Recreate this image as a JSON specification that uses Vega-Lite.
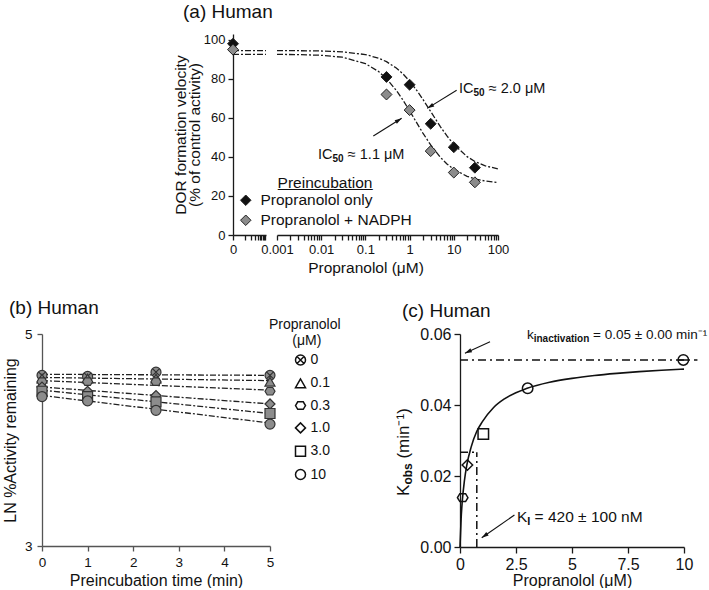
{
  "$schema": "https://vega.github.io/schema/vega-lite/v6.json",
  "background": "white",
  "padding": {"left": 2, "top": 2, "right": 0, "bottom": 0},
  "config": {
    "font": "Liberation Sans",
    "view": {"stroke": null},
    "axis": {"grid": false, "domainColor": "#1a1a1a", "tickColor": "#1a1a1a", "labelColor": "#111", "titleColor": "#111", "labelFontSize": 13, "titleFontSize": 15.5, "titleFontWeight": "normal", "tickSize": 5, "labelPadding": 3, "domainWidth": 1.3, "tickWidth": 1.3, "labelFlush": false, "labelOverlap": false, "labelBound": false},
    "legend": {"labelColor": "#111", "titleColor": "#111", "titleFontWeight": "normal", "padding": 0},
    "title": {"fontSize": 19, "fontWeight": "normal", "anchor": "start", "frame": "group", "color": "#111"}
  },
  "datasets": {
    "a_pts": [
      {"group": "Propranolol only", "conc": 0, "pct": 98},
      {"group": "Propranolol + NADPH", "conc": 0, "pct": 95},
      {"group": "Propranolol only", "conc": 0.3, "pct": 81},
      {"group": "Propranolol + NADPH", "conc": 0.3, "pct": 72},
      {"group": "Propranolol only", "conc": 1, "pct": 77},
      {"group": "Propranolol + NADPH", "conc": 1, "pct": 64},
      {"group": "Propranolol only", "conc": 3, "pct": 57},
      {"group": "Propranolol + NADPH", "conc": 3, "pct": 43},
      {"group": "Propranolol only", "conc": 10, "pct": 45},
      {"group": "Propranolol + NADPH", "conc": 10, "pct": 32},
      {"group": "Propranolol only", "conc": 30, "pct": 34.5},
      {"group": "Propranolol + NADPH", "conc": 30, "pct": 27}
    ],
    "a_fit": [
      {"group": "Propranolol only", "conc": 0, "pct": 94.5},
      {"group": "Propranolol only", "conc": 0.0005, "pct": 94.49},
      {"group": "Propranolol only", "conc": 0.001, "pct": 94.48},
      {"group": "Propranolol only", "conc": 0.003, "pct": 94.44},
      {"group": "Propranolol only", "conc": 0.01, "pct": 94.29},
      {"group": "Propranolol only", "conc": 0.03, "pct": 93.88},
      {"group": "Propranolol only", "conc": 0.1, "pct": 92.48},
      {"group": "Propranolol only", "conc": 0.2, "pct": 90.59},
      {"group": "Propranolol only", "conc": 0.3, "pct": 88.82},
      {"group": "Propranolol only", "conc": 0.5, "pct": 85.57},
      {"group": "Propranolol only", "conc": 0.7, "pct": 82.68},
      {"group": "Propranolol only", "conc": 1, "pct": 78.88},
      {"group": "Propranolol only", "conc": 1.5, "pct": 73.67},
      {"group": "Propranolol only", "conc": 2, "pct": 69.5},
      {"group": "Propranolol only", "conc": 3, "pct": 63.25},
      {"group": "Propranolol only", "conc": 5, "pct": 55.44},
      {"group": "Propranolol only", "conc": 7, "pct": 50.75},
      {"group": "Propranolol only", "conc": 10, "pct": 46.42},
      {"group": "Propranolol only", "conc": 20, "pct": 40.15},
      {"group": "Propranolol only", "conc": 30, "pct": 37.68},
      {"group": "Propranolol only", "conc": 50, "pct": 35.54},
      {"group": "Propranolol only", "conc": 100, "pct": 33.82},
      {"group": "Propranolol + NADPH", "conc": 0, "pct": 92.6},
      {"group": "Propranolol + NADPH", "conc": 0.0005, "pct": 92.57},
      {"group": "Propranolol + NADPH", "conc": 0.001, "pct": 92.55},
      {"group": "Propranolol + NADPH", "conc": 0.003, "pct": 92.45},
      {"group": "Propranolol + NADPH", "conc": 0.01, "pct": 92.09},
      {"group": "Propranolol + NADPH", "conc": 0.03, "pct": 91.1},
      {"group": "Propranolol + NADPH", "conc": 0.1, "pct": 87.84},
      {"group": "Propranolol + NADPH", "conc": 0.2, "pct": 83.72},
      {"group": "Propranolol + NADPH", "conc": 0.3, "pct": 80.11},
      {"group": "Propranolol + NADPH", "conc": 0.5, "pct": 74.1},
      {"group": "Propranolol + NADPH", "conc": 0.7, "pct": 69.29},
      {"group": "Propranolol + NADPH", "conc": 1, "pct": 63.64},
      {"group": "Propranolol + NADPH", "conc": 1.5, "pct": 56.92},
      {"group": "Propranolol + NADPH", "conc": 2, "pct": 52.24},
      {"group": "Propranolol + NADPH", "conc": 3, "pct": 46.13},
      {"group": "Propranolol + NADPH", "conc": 5, "pct": 39.74},
      {"group": "Propranolol + NADPH", "conc": 7, "pct": 36.43},
      {"group": "Propranolol + NADPH", "conc": 10, "pct": 33.66},
      {"group": "Propranolol + NADPH", "conc": 20, "pct": 30.06},
      {"group": "Propranolol + NADPH", "conc": 30, "pct": 28.77},
      {"group": "Propranolol + NADPH", "conc": 50, "pct": 27.69},
      {"group": "Propranolol + NADPH", "conc": 100, "pct": 26.85}
    ],
    "a_arrows": [
      {"id": "ic2", "conc": 11.6, "pct": 74.2, "conc2": 2.51, "pct2": 64.9},
      {"id": "ic1", "conc": 0.151, "pct": 50.7, "conc2": 0.662, "pct2": 59.8}
    ],
    "a_labels": [
      {"conc": 13.1, "pct": 73.0, "t1": "IC", "t2": "50", "t3": "≈ 2.0 μM"},
      {"conc": 0.00847, "pct": 39.2, "t1": "IC", "t2": "50", "t3": "≈ 1.1 μM"}
    ],
    "b_pts": [
      {"conc": "0", "time": 0, "lnact": 4.61}, {"conc": "0", "time": 1, "lnact": 4.60}, {"conc": "0", "time": 2.5, "lnact": 4.64}, {"conc": "0", "time": 5, "lnact": 4.61},
      {"conc": "0.1", "time": 0, "lnact": 4.58}, {"conc": "0.1", "time": 1, "lnact": 4.58}, {"conc": "0.1", "time": 2.5, "lnact": 4.58}, {"conc": "0.1", "time": 5, "lnact": 4.55},
      {"conc": "0.3", "time": 0, "lnact": 4.55}, {"conc": "0.3", "time": 1, "lnact": 4.55}, {"conc": "0.3", "time": 2.5, "lnact": 4.55}, {"conc": "0.3", "time": 5, "lnact": 4.46},
      {"conc": "1.0", "time": 0, "lnact": 4.50}, {"conc": "1.0", "time": 1, "lnact": 4.46}, {"conc": "1.0", "time": 2.5, "lnact": 4.42}, {"conc": "1.0", "time": 5, "lnact": 4.34},
      {"conc": "3.0", "time": 0, "lnact": 4.46}, {"conc": "3.0", "time": 1, "lnact": 4.41}, {"conc": "3.0", "time": 2.5, "lnact": 4.36}, {"conc": "3.0", "time": 5, "lnact": 4.25},
      {"conc": "10", "time": 0, "lnact": 4.41}, {"conc": "10", "time": 1, "lnact": 4.37}, {"conc": "10", "time": 2.5, "lnact": 4.28}, {"conc": "10", "time": 5, "lnact": 4.15}
    ],
    "b_lines": [
      {"conc": "0", "time": 0, "lnact": 4.62, "time2": 5, "lnact2": 4.61},
      {"conc": "0.1", "time": 0, "lnact": 4.59, "time2": 5, "lnact2": 4.56},
      {"conc": "0.3", "time": 0, "lnact": 4.56, "time2": 5, "lnact2": 4.47},
      {"conc": "1.0", "time": 0, "lnact": 4.50, "time2": 5, "lnact2": 4.34},
      {"conc": "3.0", "time": 0, "lnact": 4.47, "time2": 5, "lnact2": 4.25},
      {"conc": "10", "time": 0, "lnact": 4.42, "time2": 5, "lnact2": 4.16}
    ],
    "c_pts": [
      {"label": "0.1", "conc": 0.12, "kobs": 0.0139},
      {"label": "0.3", "conc": 0.33, "kobs": 0.0231},
      {"label": "1.0", "conc": 1.04, "kobs": 0.0318},
      {"label": "3.0", "conc": 3.02, "kobs": 0.0447},
      {"label": "10", "conc": 9.97, "kobs": 0.0527}
    ],
    "c_fit": [
      {"conc": 0, "kobs": 0}, {"conc": 0.05, "kobs": 0.008}, {"conc": 0.1, "kobs": 0.0128}, {"conc": 0.2, "kobs": 0.0188},
      {"conc": 0.3, "kobs": 0.0229}, {"conc": 0.5, "kobs": 0.0282}, {"conc": 0.75, "kobs": 0.0326}, {"conc": 1, "kobs": 0.0353},
      {"conc": 1.5, "kobs": 0.0393}, {"conc": 2, "kobs": 0.0418}, {"conc": 3, "kobs": 0.0447}, {"conc": 4, "kobs": 0.0464},
      {"conc": 5, "kobs": 0.0475}, {"conc": 6, "kobs": 0.0483}, {"conc": 7, "kobs": 0.0489}, {"conc": 8, "kobs": 0.0494},
      {"conc": 9, "kobs": 0.0498}, {"conc": 10, "kobs": 0.0501}
    ],
    "c_refs": [
      {"conc": 0, "kobs": 0.0527, "conc2": 10.6, "kobs2": 0.0527},
      {"conc": 0, "kobs": 0.0267, "conc2": 0.75, "kobs2": 0.0267},
      {"conc": 0.75, "kobs": 0, "conc2": 0.75, "kobs2": 0.0267}
    ],
    "c_arrows": [
      {"id": "kin", "conc": 1.34, "kobs": 0.0578, "conc2": 0.22, "kobs2": 0.0546},
      {"id": "ki", "conc": 2.43, "kobs": 0.0090, "conc2": 0.97, "kobs2": 0.0026}
    ],
    "c_kin": [{"conc": 2.99, "kobs": 0.0586, "t1": "k", "t2": "inactivation", "t3": "= 0.05 ± 0.00 min⁻¹"}],
    "c_ki": [{"conc": 2.54, "kobs": 0.00704, "t1": "K", "t2": "I", "t3": "= 420 ± 100 nM"}],
    "c_ytitle": [{"conc": 0, "kobs": 0.0144, "t1": "K", "t2": "obs", "t3": "(min⁻¹)"}]
  },
  "spacing": 23,
  "resolve": {"scale": {"shape": "independent", "fill": "independent"}},
  "vconcat": [
    {
      "bounds": "flush",
      "spacing": 11,
      "resolve": {"scale": {"shape": "independent", "fill": "independent"}},
      "hconcat": [
        {
          "width": 180, "height": 201,
          "data": {"values": [{"a": 1}]},
          "mark": {"type": "text", "text": " "},
          "encoding": {}
        },
        {
          "width": 33, "height": 201,
          "title": {"text": "(a) Human", "dx": -50, "offset": 12},
          "encoding": {
            "x": {"field": "conc", "type": "quantitative", "scale": {"domain": [0, 0.0005]},
              "axis": {"values": [0, 0.000182, 0.000277, 0.000333, 0.000373, 0.000404, 0.000429, 0.00045, 0.00047, 0.000485],
                "labelExpr": "datum.value === 0 ? '0' : ''", "title": null,
                "encode": {"ticks": {"y2": {"value": {"expr": "datum.value === 0 ? 5 : 3"}}}}}},
            "y": {"field": "pct", "type": "quantitative", "scale": {"domain": [0, 103]},
              "axis": {"values": [0, 20, 40, 60, 80, 100], "title": ["DOR formation velocity", "(% of control activity)"], "titlePadding": 1, "titleLineHeight": 14}}
          },
          "layer": [
            {
              "data": {"name": "a_fit"},
              "transform": [{"filter": "datum.conc <= 0.0005"}],
              "mark": {"type": "line", "color": "#1a1a1a", "strokeWidth": 1.3, "strokeDash": [6, 2, 2, 2]},
              "encoding": {"detail": {"field": "group", "type": "nominal"}}
            },
            {
              "data": {"name": "a_pts"},
              "transform": [{"filter": "datum.conc === 0"}],
              "mark": {"type": "point", "shape": "diamond", "filled": true, "stroke": "#222", "strokeWidth": 1, "size": 120, "opacity": 1},
              "encoding": {
                "fill": {"field": "group", "type": "nominal",
                  "scale": {"domain": ["Propranolol only", "Propranolol + NADPH"], "range": ["#111111", "#8c8c8c"]},
                  "legend": {"orient": "none", "legendX": 5, "legendY": 142, "title": "P\u0332r\u0332e\u0332i\u0332n\u0332c\u0332u\u0332b\u0332a\u0332t\u0332i\u0332o\u0332n\u0332",
                    "titleAnchor": "middle", "titleAlign": "center", "titleFontSize": 15.5, "labelFontSize": 15.5,
                    "symbolSize": 110, "symbolType": "diamond", "symbolStrokeColor": "#222", "symbolStrokeWidth": 1,
                    "rowPadding": 3, "titlePadding": 1, "labelOffset": 7}}
              }
            }
          ]
        },
        {
          "width": 221, "height": 201,
          "encoding": {
            "x": {"field": "conc", "type": "quantitative", "scale": {"type": "log", "domain": [0.001, 100]},
              "axis": {"values": [0.001,0.002,0.003,0.004,0.005,0.006,0.007,0.008,0.009,0.01,0.02,0.03,0.04,0.05,0.06,0.07,0.08,0.09,0.1,0.2,0.3,0.4,0.5,0.6,0.7,0.8,0.9,1,2,3,4,5,6,7,8,9,10,20,30,40,50,60,70,80,90,100],
                "labelExpr": "indexof([0.001,0.01,0.1,1,10,100], datum.value) >= 0 ? format(datum.value, '~g') : ''",
                "title": "Propranolol (μM)", "titleX": 88.5, "titleAlign": "center", "titlePadding": 4,
                "encode": {"ticks": {"y2": {"value": {"expr": "indexof([0.001,0.01,0.1,1,10,100], datum.value) >= 0 ? 5 : 3"}}}}}},
            "y": {"field": "pct", "type": "quantitative", "scale": {"domain": [0, 103]}, "axis": null}
          },
          "layer": [
            {
              "data": {"name": "a_fit"},
              "transform": [{"filter": "datum.conc >= 0.001"}],
              "mark": {"type": "line", "color": "#1a1a1a", "strokeWidth": 1.3, "strokeDash": [6, 2, 2, 2]},
              "encoding": {"detail": {"field": "group", "type": "nominal"}}
            },
            {
              "data": {"name": "a_pts"},
              "transform": [{"filter": "datum.conc > 0"}],
              "mark": {"type": "point", "shape": "diamond", "filled": true, "stroke": "#222", "strokeWidth": 1, "size": 120, "opacity": 1},
              "encoding": {
                "fill": {"field": "group", "type": "nominal",
                  "scale": {"domain": ["Propranolol only", "Propranolol + NADPH"], "range": ["#111111", "#8c8c8c"]},
                  "legend": null}
              }
            },
            {
              "data": {"name": "a_arrows"},
              "mark": {"type": "rule", "color": "#111", "strokeWidth": 1.1},
              "encoding": {"x2": {"field": "conc2"}, "y2": {"field": "pct2"}}
            },
            {
              "data": {"name": "a_arrows"},
              "transform": [{"filter": "datum.id === 'ic2'"}],
              "mark": {"type": "point", "shape": "M0,0L0.55,1.8L-0.55,1.8Z", "filled": true, "color": "#111", "size": 60, "angle": 238.5, "opacity": 1, "strokeWidth": 0},
              "encoding": {"x": {"field": "conc2", "type": "quantitative"}, "y": {"field": "pct2", "type": "quantitative"}}
            },
            {
              "data": {"name": "a_arrows"},
              "transform": [{"filter": "datum.id === 'ic1'"}],
              "mark": {"type": "point", "shape": "M0,0L0.55,1.8L-0.55,1.8Z", "filled": true, "color": "#111", "size": 60, "angle": 58.1, "opacity": 1, "strokeWidth": 0},
              "encoding": {"x": {"field": "conc2", "type": "quantitative"}, "y": {"field": "pct2", "type": "quantitative"}}
            },
            {
              "data": {"name": "a_labels"},
              "mark": {"type": "text", "align": "left", "baseline": "alphabetic", "fontSize": 14.5, "color": "#111"},
              "encoding": {"text": {"field": "t1"}}
            },
            {
              "data": {"name": "a_labels"},
              "mark": {"type": "text", "align": "left", "baseline": "alphabetic", "fontSize": 10, "fontWeight": "bold", "color": "#111", "dx": 14.5, "dy": 3},
              "encoding": {"text": {"field": "t2"}}
            },
            {
              "data": {"name": "a_labels"},
              "mark": {"type": "text", "align": "left", "baseline": "alphabetic", "fontSize": 14.5, "color": "#111", "dx": 29.8},
              "encoding": {"text": {"field": "t3"}}
            }
          ]
        }
      ]
    },
    {
      "bounds": "flush",
      "spacing": 190,
      "resolve": {"scale": {"shape": "independent", "fill": "independent"}},
      "hconcat": [
        {
          "width": 228, "height": 212,
          "title": {"text": "(b) Human", "dx": -33, "offset": 0},
          "encoding": {
            "x": {"field": "time", "type": "quantitative", "scale": {"domain": [0, 5]},
              "axis": {"values": [0, 1, 2, 3, 4, 5], "format": "d", "title": "Preincubation time (min)", "labelFontSize": 13.5, "titleFontSize": 16, "labelPadding": 4.5, "titlePadding": 3, "domainColor": "#555", "tickColor": "#555"}},
            "y": {"field": "lnact", "type": "quantitative", "scale": {"domain": [3, 5]},
              "axis": {"values": [3, 4, 5], "format": "d", "title": "LN %Activity remaining", "labelFontSize": 13.5, "titleFontSize": 16, "titlePadding": 6, "labelPadding": 5, "domainColor": "#555", "tickColor": "#555"}}
          },
          "layer": [
            {
              "data": {"name": "b_pts"},
              "transform": [{"filter": "false"}],
              "mark": {"type": "point", "filled": false, "stroke": "#111", "strokeWidth": 1.5, "size": 100, "opacity": 1},
              "encoding": {
                "shape": {"field": "conc", "type": "nominal", "sort": ["0", "0.1", "0.3", "1.0", "3.0", "10"],
                  "scale": {"domain": ["0", "0.1", "0.3", "1.0", "3.0", "10"],
                    "range": ["M-1,0A1,1,0,1,0,1,0A1,1,0,1,0,-1,0ZM-0.7,-0.7L0.7,0.7M-0.7,0.7L0.7,-0.7", "triangle-up", "M-1,0L-0.55,-0.75L0.55,-0.75L1,0L0.55,0.75L-0.55,0.75Z", "diamond", "square", "circle"]},
                  "legend": {"orient": "none", "legendX": 227, "legendY": -16, "title": ["Propranolol", "\u200d\u00a0\u00a0\u00a0\u00a0\u00a0\u00a0(μM)"],
                    "titleAlign": "left", "titleAnchor": "start", "titleFontSize": 14, "titleLineHeight": 16, "titlePadding": 5,
                    "labelFontSize": 14, "symbolSize": 100, "symbolStrokeColor": "#111", "symbolStrokeWidth": 1.5, "symbolOpacity": 1,
                    "symbolOffset": 24.5, "rowPadding": 7.3, "labelOffset": 3}
                }
              }
            },
            {
              "data": {"name": "b_lines"},
              "mark": {"type": "rule", "color": "#222", "strokeWidth": 1.3, "strokeDash": [6, 2, 2, 2]},
              "encoding": {"x2": {"field": "time2"}, "y2": {"field": "lnact2"}}
            },
            {
              "data": {"name": "b_pts"},
              "mark": {"type": "point", "filled": true, "fill": "#8c8c8c", "stroke": "#333", "strokeWidth": 1.2, "size": 100, "opacity": 1},
              "encoding": {
                "shape": {"field": "conc", "type": "nominal", "sort": ["0", "0.1", "0.3", "1.0", "3.0", "10"],
                  "scale": {"domain": ["0", "0.1", "0.3", "1.0", "3.0", "10"],
                    "range": ["M-1,0A1,1,0,1,0,1,0A1,1,0,1,0,-1,0ZM-0.7,-0.7L0.7,0.7M-0.7,0.7L0.7,-0.7", "triangle-up", "M-1,0L-0.55,-0.75L0.55,-0.75L1,0L0.55,0.75L-0.55,0.75Z", "diamond", "square", "circle"]},
                  "legend": null}
              }
            }
          ]
        },
        {
          "width": 224, "height": 213,
          "title": {"text": "(c) Human", "dx": -58, "offset": 5},
          "encoding": {
            "x": {"field": "conc", "type": "quantitative", "scale": {"domain": [0, 10]},
              "axis": {"values": [0, 2.5, 5, 7.5, 10], "labelExpr": "'' + datum.value", "title": "Propranolol (μM)", "labelFontSize": 16, "titleFontSize": 16, "tickSize": 6, "labelPadding": 3, "titlePadding": 0}},
            "y": {"field": "kobs", "type": "quantitative", "scale": {"domain": [0, 0.06]},
              "axis": {"values": [0, 0.02, 0.04, 0.06], "format": ".2f", "title": null, "labelFontSize": 16, "tickSize": 6, "labelPadding": 3}}
          },
          "layer": [
            {
              "data": {"name": "c_refs"},
              "mark": {"type": "rule", "color": "#111", "strokeWidth": 1.5, "strokeDash": [8, 4, 2, 4]},
              "encoding": {"x2": {"field": "conc2"}, "y2": {"field": "kobs2"}}
            },
            {
              "data": {"name": "c_fit"},
              "mark": {"type": "line", "color": "#111", "strokeWidth": 1.6, "interpolate": "monotone"},
              "encoding": {}
            },
            {
              "data": {"name": "c_pts"},
              "mark": {"type": "point", "filled": false, "stroke": "#111", "strokeWidth": 1.5, "size": 110, "opacity": 1},
              "encoding": {
                "shape": {"field": "label", "type": "nominal",
                  "scale": {"domain": ["0.1", "0.3", "1.0", "3.0", "10"],
                    "range": ["M-1,0L-0.55,-0.75L0.55,-0.75L1,0L0.55,0.75L-0.55,0.75Z", "diamond", "square", "circle", "M-1,0A1,1,0,1,0,1,0A1,1,0,1,0,-1,0ZM-1,0L1,0"]},
                  "legend": null}
              }
            },
            {
              "data": {"name": "c_arrows"},
              "mark": {"type": "rule", "color": "#111", "strokeWidth": 1.1},
              "encoding": {"x2": {"field": "conc2"}, "y2": {"field": "kobs2"}}
            },
            {
              "data": {"name": "c_arrows"},
              "transform": [{"filter": "datum.id === 'kin'"}],
              "mark": {"type": "point", "shape": "M0,0L0.55,1.8L-0.55,1.8Z", "filled": true, "color": "#111", "size": 60, "angle": 245.1, "opacity": 1, "strokeWidth": 0},
              "encoding": {"x": {"field": "conc2", "type": "quantitative"}, "y": {"field": "kobs2", "type": "quantitative"}}
            },
            {
              "data": {"name": "c_arrows"},
              "transform": [{"filter": "datum.id === 'ki'"}],
              "mark": {"type": "point", "shape": "M0,0L0.55,1.8L-0.55,1.8Z", "filled": true, "color": "#111", "size": 60, "angle": 235.1, "opacity": 1, "strokeWidth": 0},
              "encoding": {"x": {"field": "conc2", "type": "quantitative"}, "y": {"field": "kobs2", "type": "quantitative"}}
            },
            {
              "data": {"name": "c_kin"},
              "mark": {"type": "text", "align": "left", "baseline": "alphabetic", "fontSize": 13.5, "color": "#111"},
              "encoding": {"text": {"field": "t1"}}
            },
            {
              "data": {"name": "c_kin"},
              "mark": {"type": "text", "align": "left", "baseline": "alphabetic", "fontSize": 10, "fontWeight": "bold", "color": "#111", "dx": 6.75, "dy": 3},
              "encoding": {"text": {"field": "t2"}}
            },
            {
              "data": {"name": "c_kin"},
              "mark": {"type": "text", "align": "left", "baseline": "alphabetic", "fontSize": 13.5, "color": "#111", "dx": 66.1},
              "encoding": {"text": {"field": "t3"}}
            },
            {
              "data": {"name": "c_ki"},
              "mark": {"type": "text", "align": "left", "baseline": "alphabetic", "fontSize": 15.5, "color": "#111"},
              "encoding": {"text": {"field": "t1"}}
            },
            {
              "data": {"name": "c_ki"},
              "mark": {"type": "text", "align": "left", "baseline": "alphabetic", "fontSize": 11, "fontWeight": "bold", "color": "#111", "dx": 10.34, "dy": 3},
              "encoding": {"text": {"field": "t2"}}
            },
            {
              "data": {"name": "c_ki"},
              "mark": {"type": "text", "align": "left", "baseline": "alphabetic", "fontSize": 15.5, "color": "#111", "dx": 17.7},
              "encoding": {"text": {"field": "t3"}}
            },
            {
              "data": {"name": "c_ytitle"},
              "mark": {"type": "text", "align": "left", "baseline": "alphabetic", "fontSize": 17, "color": "#111", "angle": 270, "dy": -51.5},
              "encoding": {"text": {"field": "t1"}}
            },
            {
              "data": {"name": "c_ytitle"},
              "mark": {"type": "text", "align": "left", "baseline": "alphabetic", "fontSize": 12, "fontWeight": "bold", "color": "#111", "angle": 270, "dx": 11.3, "dy": -48.5},
              "encoding": {"text": {"field": "t2"}}
            },
            {
              "data": {"name": "c_ytitle"},
              "mark": {"type": "text", "align": "left", "baseline": "alphabetic", "fontSize": 17, "color": "#111", "angle": 270, "dx": 37.3, "dy": -51.5},
              "encoding": {"text": {"field": "t3"}}
            }
          ]
        }
      ]
    }
  ]
}
